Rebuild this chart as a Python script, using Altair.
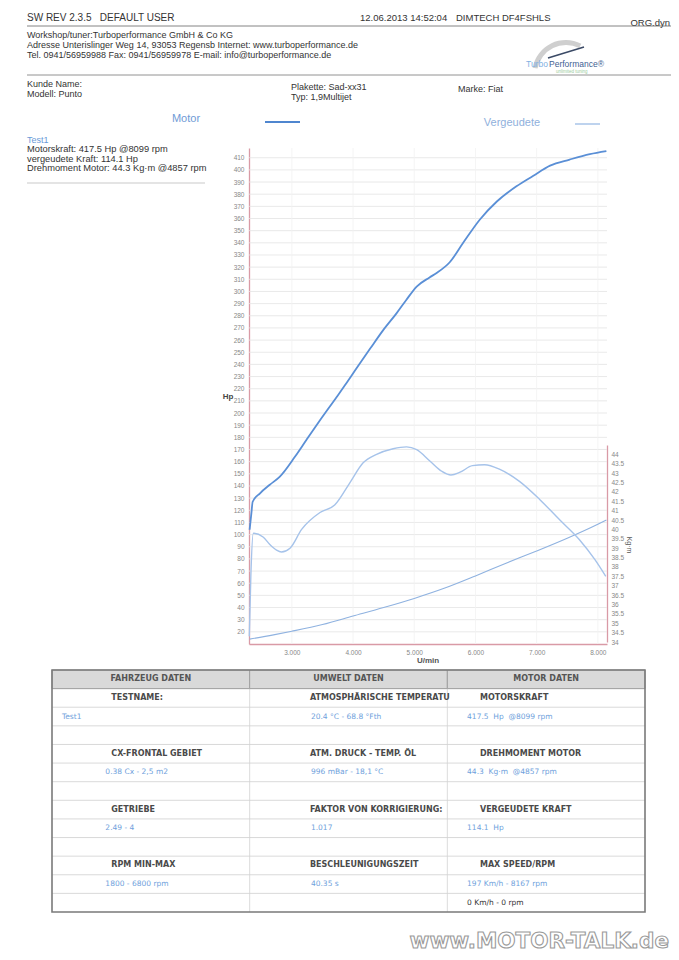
import altair as alt
import pandas as pd

NB = "\u00a0"

# ---------------- data read from the dyno sheet ----------------
rpm_power = [2310, 2340, 2360, 2480, 2640, 2800, 3050, 3240, 3460, 3730, 3870, 4060,
             4280, 4490, 4710, 4870, 5040, 5250, 5360, 5580, 5800, 6070, 6350, 6670,
             6940, 7220, 7540, 7870, 8140]
power_hp = [104, 118, 127, 134, 141, 147.5, 164, 178, 194, 213, 223, 237,
            253, 268, 282, 293, 304, 311.5, 315, 324, 340, 359, 374, 386.5,
            395, 403.5, 408.5, 413, 415.5]

rpm_torque = [2305, 2330, 2370, 2530, 2640, 2750, 2830, 2970, 3160, 3460, 3700, 3950,
              4165, 4385, 4655, 4875, 5040, 5255, 5450, 5600, 5750, 5950, 6150, 6400,
              6725, 7050, 7380, 7700, 7950, 8130]
torque_kgm = [34.3, 37.5, 39.8, 39.6, 39.2, 38.9, 38.8, 39.0, 40.0, 40.9, 41.3, 42.5,
              43.55, 44.0, 44.3, 44.4, 44.25, 43.65, 43.1, 42.9, 43.05, 43.4, 43.45, 43.2,
              42.55, 41.6, 40.5, 39.45, 38.4, 37.5]

rpm_lost = [2310, 2700, 3000, 3500, 4000, 4500, 5000, 5500, 6000, 6500, 7000, 7500, 8000, 8140]
lost_hp = [14, 17.5, 20.5, 26, 33, 40, 47.5, 56, 66, 76.5, 86.5, 97, 108.5, 112]

hp_ticks = list(range(20, 411, 10))
rpm_ticks = [3000, 4000, 5000, 6000, 7000, 8000]
torque_ticks = [34 + 0.5 * i for i in range(21)]

table_headers = ["FAHRZEUG DATEN", "UMWELT DATEN", "MOTOR DATEN"]
table_labels = [
    ["TESTNAME:", "CX-FRONTAL GEBIET", "GETRIEBE", "RPM MIN-MAX"],
    ["ATMOSPHÄRISCHE TEMPERATU", "ATM. DRUCK - TEMP. ÖL", "FAKTOR VON KORRIGIERUNG:", "BESCHLEUNIGUNGSZEIT"],
    ["MOTORSKRAFT", "DREHMOMENT MOTOR", "VERGEUDETE KRAFT", "MAX SPEED/RPM"],
]
table_values = [
    ["Test1", "0.38 Cx - 2,5 m2", "2.49 - 4", "1800 - 6800 rpm"],
    ["20.4 °C - 68.8 °Fth", "996 mBar - 18,1 °C", "1.017", "40.35 s"],
    ["417.5  Hp  @8099 rpm", "44.3  Kg·m  @4857 rpm", "114.1  Hp", "197 Km/h - 8167 rpm"],
]
table_extra = "0 Km/h - 0 rpm"

# ---------------- layout ----------------
OX, OY = 249, 148          # page position of plot origin
W, H = 358, 496
FONT = "Liberation Sans"
TFONT = "DejaVu Sans"

XS = alt.Scale(domain=[2300, 8150], nice=False, zero=False)
YS = alt.Scale(domain=[10, 418], nice=False, zero=False)
TS = alt.Scale(domain=[34, 44.5], range=[494, 297], nice=False, zero=False)
TBX = alt.Scale(domain=[0, 3], range=[52 - OX, 645 - OX], nice=False, zero=False)
TBY = alt.Scale(domain=[0, 13], range=[670 - OY, 912 - OY], nice=False, zero=False)

AXC = "#d99aa6"
ONE = alt.Data(values=[{}])


def keep_spaces(s):
    if isinstance(s, list):
        return [keep_spaces(t) for t in s]
    return s.replace("  ", NB + NB)


def txt(s, x, y, size=9, color="#333333", weight="normal", align="left",
        font=FONT, angle=None, baseline="middle", lh=None, **kw):
    props = dict(align=align, baseline=baseline, fontSize=size, color=color,
                 fontWeight=weight, font=font, **kw)
    if angle is not None:
        props["angle"] = angle
    if lh is not None:
        props["lineHeight"] = lh
    return alt.Chart(ONE).mark_text(**props).encode(
        x=alt.value(x - OX), y=alt.value(y - OY), text=alt.value(keep_spaces(s)))


def hline(x1, x2, y, color="#666666", w=0.8):
    return alt.Chart(ONE).mark_rule(color=color, strokeWidth=w).encode(
        x=alt.value(x1 - OX), x2=alt.value(x2 - OX), y=alt.value(y - OY))


layers = []

# grid
grid_h = alt.Chart(pd.DataFrame({"v": hp_ticks})).mark_rule(color="#e3e3e3", strokeWidth=0.8).encode(
    y=alt.Y("v:Q", scale=YS, axis=None), x=alt.value(0), x2=alt.value(W))
grid_v = alt.Chart(pd.DataFrame({"v": rpm_ticks})).mark_rule(color="#f1f1f1", strokeWidth=0.8).encode(
    x=alt.X("v:Q", scale=XS, axis=None), y=alt.value(0), y2=alt.value(H))
layers += [grid_h, grid_v]

# lost power
lost = alt.Chart(pd.DataFrame({"rpm": rpm_lost, "hp": lost_hp})).mark_line(
    color="#8fb2e0", strokeWidth=1.1, interpolate="monotone").encode(
    x=alt.X("rpm:Q", scale=XS, axis=None), y=alt.Y("hp:Q", scale=YS, axis=None))

# torque (right axis)
torque = alt.Chart(pd.DataFrame({"rpm": rpm_torque, "t": torque_kgm})).mark_line(
    color="#a6c3ea", strokeWidth=1.4, interpolate="monotone").encode(
    x=alt.X("rpm:Q", scale=XS, axis=None),
    y=alt.Y("t:Q", scale=TS, axis=alt.Axis(
        orient="right", values=torque_ticks, labelExpr="'' + datum.value", title=None,
        ticks=False, grid=False, labelFontSize=6.5, labelColor="#888888", labelFont=FONT,
        domainColor=AXC, domainWidth=1.3, labelPadding=4)))

# power (main axes)
power = alt.Chart(pd.DataFrame({"rpm": rpm_power, "hp": power_hp})).mark_line(
    color="#5a8fd6", strokeWidth=1.8, interpolate="monotone").encode(
    x=alt.X("rpm:Q", scale=XS, axis=alt.Axis(
        orient="bottom", values=rpm_ticks, title=None, ticks=False, grid=False,
        labelExpr="replace(format(datum.value, ','), ',', '.')",
        labelFontSize=6.5, labelColor="#888888", labelFont=FONT,
        domainColor=AXC, domainWidth=1.3, labelPadding=5)),
    y=alt.Y("hp:Q", scale=YS, axis=alt.Axis(
        orient="left", values=hp_ticks, title=None, ticks=False, grid=False,
        labelFontSize=6.5, labelColor="#888888", labelFont=FONT,
        domainColor=AXC, domainWidth=1.3, labelPadding=5)))
layers += [lost, torque, power]

# axis titles
layers += [
    txt("Hp", 228, 397, size=8, weight="bold", color="#444444", align="center"),
    txt("U/min", 428, 661, size=8, weight="bold", color="#555555", align="center"),
    txt("Kg·m", 629, 545, size=7, color="#555555", align="center", angle=90),
]

# header
layers += [
    txt("SW REV 2.3.5   DEFAULT USER", 27, 18, size=10),
    txt("12.06.2013 14:52:04", 360, 18, size=9.5),
    txt("DIMTECH DF4FSHLS", 456, 18, size=9.5),
    txt("ORG.dyn", 670, 23, size=9.5, align="right"),
    hline(27, 671, 26, color="#666666", w=0.8),
    txt(["Workshop/tuner:Turboperformance GmbH & Co KG",
         "Adresse Unterislinger Weg 14, 93053 Regensb Internet: www.turboperformance.de",
         "Tel. 0941/56959988 Fax: 0941/56959978 E-mail: info@turboperformance.de"],
        27, 31, size=9, baseline="top", lh=10),
    hline(27, 671, 75, color="#777777", w=0.8),
    txt(["Kunde Name:", "Modell: Punto"], 27, 80, size=9, baseline="top", lh=9.5),
    txt(["Plakette: Sad-xx31", "Typ: 1,9Multijet"], 291, 83, size=9, baseline="top", lh=9.5),
    txt("Marke: Fiat", 458, 88.5, size=9),
]

# logo
logo_arc = alt.Chart(ONE).mark_arc(radius=34, radius2=29, theta=4.9, theta2=6.75,
                                   color="#cfcfcf").encode(
    x=alt.value(566 - OX), y=alt.value(74 - OY))
needle = alt.Chart(ONE).mark_rule(color="#3b4a66", strokeWidth=1.6).encode(
    x=alt.value(548 - OX), x2=alt.value(584 - OX), y=alt.value(58 - OY), y2=alt.value(47 - OY))
layers += [
    logo_arc, needle,
    txt("Turbo", 526, 64, size=8.5, color="#7fb0e2"),
    txt("Performance®", 549, 64, size=8.5, color="#3f6293"),
    txt("unlimited tuning", 556, 72, size=4.5, color="#9ccc9c"),
]

# legend
layers += [
    txt("Motor", 186, 119, size=11, color="#6f9bd6", align="center"),
    hline(265, 300, 122, color="#4f86cf", w=2),
    txt("Vergeudete", 512, 123, size=11, color="#8fb0dc", align="center"),
    hline(575, 600, 124, color="#a9c4e8", w=1.5),
]

# info block
layers += [
    txt("Test1", 27, 140, size=9, color="#6a9bd8"),
    txt(["Motorskraft: 417.5 Hp @8099 rpm", "vergeudete Kraft: 114.1 Hp",
         "Drehmoment Motor: 44.3 Kg·m @4857 rpm"], 27, 145, size=9.3, baseline="top", lh=9.6),
    hline(27, 205, 183, color="#bbbbbb", w=0.8),
]

# ---------------- table ----------------
hdr = pd.DataFrame({"c": [0, 1, 2], "c2": [1, 2, 3], "r0": [0] * 3, "r1": [1] * 3,
                    "xc": [0.5, 1.5, 2.5], "rc": [0.5] * 3, "text": table_headers})
hdr_rect = alt.Chart(hdr).mark_rect(fill="#d9d9d9", stroke="#a0a0a0", strokeWidth=1).encode(
    x=alt.X("c:Q", scale=TBX, axis=None), x2="c2:Q",
    y=alt.Y("r0:Q", scale=TBY, axis=None), y2="r1:Q")
hdr_txt = alt.Chart(hdr).mark_text(font=TFONT, fontSize=8, fontWeight="bold", color="#555555",
                                  baseline="middle", align="center").encode(
    x=alt.X("xc:Q", scale=TBX, axis=None), y=alt.Y("rc:Q", scale=TBY, axis=None), text="text:N")

hl = pd.DataFrame({"r": list(range(1, 13)), "a": [0] * 12, "b": [3] * 12})
h_lines = alt.Chart(hl).mark_rule(color="#cfcfcf", strokeWidth=0.8).encode(
    y=alt.Y("r:Q", scale=TBY, axis=None),
    x=alt.X("a:Q", scale=TBX, axis=None), x2="b:Q")
vl = pd.DataFrame({"c": [1, 2], "a": [1, 1], "b": [13, 13]})
v_lines = alt.Chart(vl).mark_rule(color="#d3d3d3", strokeWidth=0.8).encode(
    x=alt.X("c:Q", scale=TBX, axis=None),
    y=alt.Y("a:Q", scale=TBY, axis=None), y2="b:Q")
border = alt.Chart(pd.DataFrame({"a": [0], "b": [3], "r0": [0], "r1": [13]})).mark_rect(
    filled=False, stroke="#7a7a7a", strokeWidth=1.6).encode(
    x=alt.X("a:Q", scale=TBX, axis=None), x2="b:Q",
    y=alt.Y("r0:Q", scale=TBY, axis=None), y2="r1:Q")

label_off = [0.30, 0.305, 0.165]
value_off = [0.27, 0.31, 0.10]
lab_rows, val_rows = [], []
for c in range(3):
    for i in range(4):
        lab_rows.append({"x": c + label_off[c], "r": 1.5 + 3 * i, "text": table_labels[c][i]})
        off = 0.05 if (c == 0 and i == 0) else value_off[c]
        val_rows.append({"x": c + off, "r": 2.5 + 3 * i, "text": keep_spaces(table_values[c][i])})
lab_txt = alt.Chart(pd.DataFrame(lab_rows)).mark_text(
    font=TFONT, fontSize=8, fontWeight="bold", color="#4a4a4a", align="left", baseline="middle").encode(
    x=alt.X("x:Q", scale=TBX, axis=None), y=alt.Y("r:Q", scale=TBY, axis=None), text="text:N")
val_txt = alt.Chart(pd.DataFrame(val_rows)).mark_text(
    font=TFONT, fontSize=7.5, color="#6f9fdc", align="left", baseline="middle").encode(
    x=alt.X("x:Q", scale=TBX, axis=None), y=alt.Y("r:Q", scale=TBY, axis=None), text="text:N")
extra_txt = alt.Chart(pd.DataFrame([{"x": 2 + value_off[2], "r": 12.5, "text": table_extra}])).mark_text(
    font=TFONT, fontSize=7.5, color="#333333", align="left", baseline="middle").encode(
    x=alt.X("x:Q", scale=TBX, axis=None), y=alt.Y("r:Q", scale=TBY, axis=None), text="text:N")

layers += [h_lines, v_lines, hdr_rect, hdr_txt, border, lab_txt, val_txt, extra_txt]

# watermark
layers += [txt("www.MOTOR-TALK.de", 669, 942, size=21.5, weight="bold", font=TFONT,
               color="#ffffff", align="right", stroke="#9a9a9a", strokeWidth=1.1)]

chart = alt.layer(*layers).resolve_scale(x="independent", y="independent").properties(
    width=W, height=H,
    padding={"left": OX - 8, "top": OY - 8, "right": 679 - 16 - (OX - 8) - W,
             "bottom": 960 - 16 - (OY - 8) - H},
    autosize=alt.AutoSizeParams(type="none"),
    background="white",
).configure_view(stroke=None)

chart.save("out.html", embed_options={"renderer": "svg", "actions": False})
